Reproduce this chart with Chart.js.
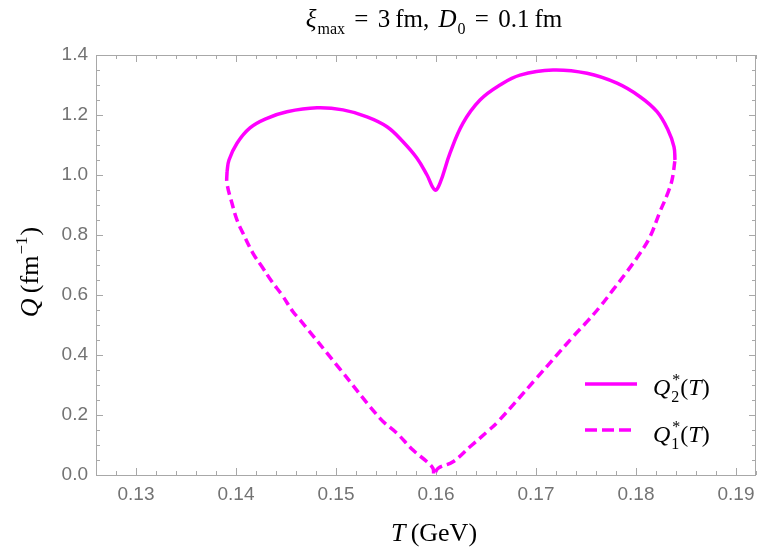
<!DOCTYPE html>
<html>
<head>
<meta charset="utf-8">
<script src="https://cdn.jsdelivr.net/npm/chart.js@4.4.0/dist/chart.umd.min.js"></script>
<style>
  html, body { margin: 0; padding: 0; background: #fff; }
</style>
</head>
<body>
<canvas id="chart" width="769" height="552"></canvas>
<script>
// Q2*(T), upper solid branch
const q2T = [0.1391, 0.1393, 0.1401, 0.1414, 0.1431, 0.1451, 0.1481, 0.1507, 0.1531, 0.1551, 0.1567, 0.1581, 0.1591, 0.1599, 0.1604, 0.1614, 0.1627, 0.1644, 0.1664, 0.1684, 0.1717, 0.1751, 0.1781, 0.1804, 0.1821, 0.1832, 0.1838, 0.1839];
const q2Q = [1.01, 1.05, 1.106, 1.157, 1.189, 1.211, 1.224, 1.217, 1.194, 1.161, 1.111, 1.056, 1.0, 0.95, 0.973, 1.073, 1.173, 1.25, 1.30, 1.333, 1.35, 1.339, 1.306, 1.261, 1.211, 1.15, 1.094, 1.05];

// Q1*(T), lower dashed branch
const q1T = [0.1391, 0.1391, 0.1396, 0.1401, 0.1407, 0.1417, 0.1426, 0.1436, 0.1446, 0.1457, 0.1464, 0.1504, 0.1544, 0.1561, 0.1577, 0.1591, 0.1597, 0.1598, 0.1602, 0.1617, 0.1634, 0.1651, 0.1662, 0.1699, 0.1737, 0.1751, 0.1764, 0.1777, 0.1791, 0.1804, 0.1814, 0.1824, 0.1831, 0.1836, 0.1839];
const q1Q = [1.01, 0.972, 0.906, 0.85, 0.806, 0.739, 0.694, 0.644, 0.6, 0.544, 0.517, 0.353, 0.189, 0.139, 0.083, 0.044, 0.022, 0.0, 0.022, 0.044, 0.094, 0.144, 0.178, 0.317, 0.461, 0.511, 0.561, 0.617, 0.678, 0.739, 0.794, 0.878, 0.933, 0.983, 1.05];

const xTicks = [0.13, 0.14, 0.15, 0.16, 0.17, 0.18, 0.19];
const yTicks = [0.0, 0.2, 0.4, 0.6, 0.8, 1.0, 1.2, 1.4];

const MAGENTA = '#ff00ff';
const SERIF = '"Liberation Serif", "DejaVu Serif", serif';
const DASH = [9, 5];

// text runs: {t, it, sub, sup, size, dx, stack}
function runFont(r, base) {
  return (r.it ? 'italic ' : '') + (r.size || base) + 'px ' + SERIF;
}
function runWidth(ctx, runs, base) {
  let w = 0;
  runs.forEach(r => {
    ctx.font = runFont(r, base);
    if (!r.stack) w += ctx.measureText(r.t).width + (r.dx || 0);
  });
  return w;
}
function drawRuns(ctx, runs, x, y, base) {
  let cx = x;
  runs.forEach(r => {
    ctx.font = runFont(r, base);
    let dy = 0;
    if (r.sub) dy = base * 0.28;
    if (r.sup) dy = -base * 0.42;
    ctx.fillText(r.t, cx + (r.dx || 0), y + dy);
    if (!r.stack) cx += ctx.measureText(r.t).width + (r.dx || 0);
  });
}

const framePlugin = {
  id: 'frame',
  beforeDatasetsDraw(chart) {
    const { ctx, chartArea: a, scales: { x, y } } = chart;
    ctx.save();
    ctx.strokeStyle = '#a8a8a8';
    ctx.lineWidth = 1;
    ctx.strokeRect(a.left + 0.5, a.top + 0.5, a.right - a.left - 1, a.bottom - a.top);
    ctx.beginPath();
    for (let k = 63; k <= 96; k++) {
      const px = Math.round(x.getPixelForValue(k * 0.002)) + 0.5;
      const len = k % 5 === 0 ? 7 : 4;
      ctx.moveTo(px, a.bottom); ctx.lineTo(px, a.bottom - len);
      ctx.moveTo(px, a.top); ctx.lineTo(px, a.top + len);
    }
    for (let k = 0; k <= 28; k++) {
      const py = Math.round(y.getPixelForValue(k * 0.05)) + 0.5;
      const len = k % 4 === 0 ? 7 : 4;
      ctx.moveTo(a.left, py); ctx.lineTo(a.left + len, py);
      ctx.moveTo(a.right, py); ctx.lineTo(a.right - len, py);
    }
    ctx.stroke();
    ctx.restore();
  },
  afterDraw(chart) {
    const { ctx } = chart;
    ctx.save();
    ctx.fillStyle = '#000';
    ctx.textBaseline = 'alphabetic';
    ctx.textAlign = 'left';

    // title
    const title = [
      { t: 'ξ', it: true },
      { t: 'max', sub: true, size: 16, dx: 1 },
      { t: ' = ', dx: 3 },
      { t: '3\u2009fm, ', dx: 3 },
      { t: 'D', it: true, dx: 3 },
      { t: '0', sub: true, size: 16, dx: 1 },
      { t: ' = ', dx: 3 },
      { t: '0.1\u2009fm', dx: 3 }
    ];
    const tw = runWidth(ctx, title, 25);
    drawRuns(ctx, title, 434 - tw / 2, 27, 25);

    // x axis title
    const xt = [{ t: 'T', it: true }, { t: '\u2009(GeV)' }];
    const xw = runWidth(ctx, xt, 26);
    drawRuns(ctx, xt, 434 - xw / 2, 541, 26);

    // y axis title
    const yt = [{ t: 'Q', it: true }, { t: '\u2009(fm' }, { t: '−1', sup: true, size: 17, dx: 1 }, { t: ')', dx: 1 }];
    const yw = runWidth(ctx, yt, 26);
    ctx.save();
    ctx.translate(38, 272);
    ctx.rotate(-Math.PI / 2);
    drawRuns(ctx, yt, -yw / 2, 0, 26);
    ctx.restore();

    // legend
    ctx.strokeStyle = MAGENTA;
    ctx.lineWidth = 3.5;
    ctx.beginPath(); ctx.moveTo(585, 384); ctx.lineTo(637, 384); ctx.stroke();
    ctx.setLineDash([12, 5]);
    ctx.beginPath(); ctx.moveTo(585, 430); ctx.lineTo(631, 430); ctx.stroke();
    ctx.setLineDash([]);
    const leg = (n) => [
      { t: 'Q', it: true },
      { t: '*', sup: true, size: 16, stack: true, dx: 2 },
      { t: n, sub: true, size: 16, dx: 1 },
      { t: '(', dx: 1 },
      { t: 'T', it: true },
      { t: ')' }
    ];
    drawRuns(ctx, leg('2'), 653, 395, 24);
    drawRuns(ctx, leg('1'), 653, 442, 24);
    ctx.restore();
  }
};

const tickFont = { family: '"Liberation Sans", Arial, sans-serif', size: 19 };

new Chart(document.getElementById('chart'), {
  type: 'scatter',
  data: {
    datasets: [
      {
        label: 'Q2*(T)',
        data: q2T.map((t, i) => ({ x: t, y: q2Q[i] })),
        showLine: true,
        borderColor: MAGENTA,
        borderWidth: 3.5,
        pointRadius: 0,
        tension: 0.4,
        fill: false
      },
      {
        label: 'Q1*(T)',
        data: q1T.map((t, i) => ({ x: t, y: q1Q[i] })),
        showLine: true,
        borderColor: MAGENTA,
        borderWidth: 3.5,
        borderDash: DASH,
        pointRadius: 0,
        tension: 0.4,
        fill: false
      }
    ]
  },
  options: {
    responsive: false,
    animation: false,
    devicePixelRatio: 1,
    layout: { padding: { top: 55, right: 13, left: 0, bottom: 0 } },
    plugins: { legend: { display: false }, title: { display: false }, tooltip: { enabled: false } },
    scales: {
      x: {
        type: 'linear',
        min: 0.126,
        max: 0.192,
        grid: { display: false },
        border: { display: false },
        afterBuildTicks: s => { s.ticks = xTicks.map(v => ({ value: v })); },
        afterFit: s => { s.height = 77; },
        ticks: {
          color: '#737373', font: tickFont, padding: 0, maxRotation: 0, autoSkip: false,
          callback: v => v.toFixed(2)
        }
      },
      y: {
        type: 'linear',
        min: 0,
        max: 1.4,
        grid: { display: false },
        border: { display: false },
        afterBuildTicks: s => { s.ticks = yTicks.map(v => ({ value: v })); },
        afterFit: s => { s.width = 96; },
        ticks: {
          color: '#737373', font: tickFont, padding: 0, autoSkip: false,
          callback: v => v.toFixed(1)
        }
      }
    }
  },
  plugins: [framePlugin]
});
</script>
</body>
</html>
